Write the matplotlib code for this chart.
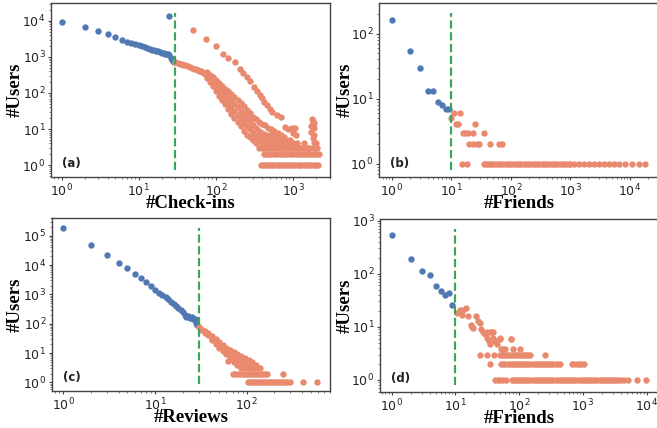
import matplotlib.pyplot as plt

blue = '#5079B3'
orange = '#E9896E'
green = '#3BA55D'

# ---- (a) check-ins ----
a_head_x = [1, 2, 3, 4, 5, 6, 7, 8, 9, 10, 11, 12, 13, 14, 15, 16, 17, 18, 19, 20,
            21, 22, 23, 24, 25, 26, 27, 28, 29, 25]
a_head_y = [9500, 6600, 5150, 4200, 3500, 3000, 2630, 2400, 2300, 2150, 2040, 1910,
            1780, 1670, 1600, 1530, 1470, 1410, 1350, 1300, 1260, 1230, 1200, 1170,
            1110, 910, 820, 760, 730, 13400]
a_trend_x = [30, 32, 34, 36, 38, 40, 43, 46, 49, 52, 55, 58, 61, 64, 67, 70, 73]
a_trend_y = [720, 680, 650, 620, 600, 580, 555, 530, 500, 475, 455, 435, 415, 395,
             375, 355, 335]
a_cloud_x = [76, 76, 76, 83, 83, 83, 91, 91, 91, 100, 100, 100,
             110, 110, 110, 110, 120, 120, 120, 120, 132, 132, 132, 132,
             145, 145, 145, 145, 158, 158, 158, 158, 174, 174, 174, 174,
             191, 191, 191, 191, 209, 209, 209, 209, 229, 229, 229, 229,
             251, 251, 251, 251, 275, 275, 275, 275, 302, 302, 302, 302,
             331, 331, 331, 331, 363, 363, 363, 363, 398, 398, 398, 398,
             437, 437, 437, 479, 479, 479, 525, 525, 525, 575, 575, 575,
             631, 631, 631, 692, 692, 692, 759, 759, 832, 832, 912, 912,
             1000, 1000, 1120, 1120, 1250, 1400, 1400, 1550, 2000, 2000]
a_cloud_y = [380, 316, 263, 324, 257, 204, 269, 204, 155, 224, 158, 112,
             190, 145, 110, 83, 158, 117, 85, 63, 132, 93, 68, 48,
             112, 76, 52, 35, 93, 62, 41, 27, 79, 50, 32, 20,
             63, 40, 25, 16, 52, 32, 20, 12, 43, 26, 16, 9,
             34, 20, 12, 7, 28, 17, 10, 6, 22, 13, 8, 5,
             19, 11, 6, 4, 16, 9, 5, 3, 14, 8, 5, 3,
             13, 7, 4, 11, 6, 4, 10, 6, 4, 9, 5, 3,
             8, 5, 4, 7, 4, 3, 6, 4, 5, 4, 5, 3,
             4, 3, 4, 3, 3, 4, 3, 3, 3, 4]
a_levels_x = [420, 470, 520, 580, 650, 720, 790,
              400, 450, 500, 560, 620, 690, 760, 840, 930,
              380, 430, 490, 550, 610, 680, 760,
              360, 410, 470, 530, 600, 680,
              350, 400, 450, 510, 580]
a_levels_y = [3, 3, 3, 3, 3, 3, 3,
              4, 4, 4, 4, 4, 4, 4, 4, 4,
              5, 5, 5, 5, 5, 5, 5,
              6, 6, 6, 6, 6, 6,
              7, 7, 7, 7, 7]
a_branch_x = [50, 75, 100, 123, 145, 175, 204, 228, 253, 280, 309, 340, 370, 400,
              420, 457, 500, 537, 617, 692, 790, 850, 975, 1070]
a_branch_y = [5730, 3030, 1990, 1240, 960, 715, 457, 363, 270, 213, 150, 115, 90, 72,
              56, 46, 37, 30, 24, 22, 11.5, 10, 10.4, 11]
a_spike_x = [1780, 1820, 1750, 1850, 1720, 1880, 1800, 1900, 1950, 1700, 1860, 1000, 1100]
a_spike_y = [19, 17, 13, 10.5, 8.5, 7, 5.5, 4.5, 3.6, 12, 15, 8, 7]
a_ones_x = [380, 407, 437, 468, 501, 537, 575, 617, 661, 708, 759, 813, 871, 933, 1000,
            1072, 1148, 1230, 1318, 1413, 1514, 1622, 1738, 1862, 1995, 2138]
a_twos_x = [415, 445, 476, 510, 546, 585, 626, 670, 718, 769, 823, 882, 944, 1011, 1083,
            1160, 1242, 1330, 1425, 1526, 1634, 1750, 1875, 2008, 2150]
a_threes_x = [800, 880, 960, 1050, 1150, 1260, 1380, 1520, 1680, 1850, 2050]

# ---- (b) friends ----
b_head_x = [1, 2, 3, 4, 5, 6, 7, 8, 9]
b_head_y = [160, 54, 30, 13, 13, 9, 8, 7, 7]
b_tail_x = [10, 11, 14, 12, 13, 25, 16, 17, 19, 23, 36, 20, 23, 27, 29, 44, 62, 71]
b_tail_y = [5, 6, 6, 4, 4, 4, 3, 3, 3, 3, 3, 2, 2, 2, 2, 2, 2, 2]
b_ones_x = [15, 18, 35, 38, 41, 45, 49, 53, 58, 63, 69, 75, 82, 89, 97, 106, 116, 126,
            138, 150, 164, 179, 195, 213, 232, 253, 276, 301, 328, 358, 390, 425, 464,
            506, 552, 602, 656, 715, 780, 850, 930, 1000, 1130, 1370, 1660, 2030, 2450,
            2970, 3610, 4380, 5310, 6440, 8330, 10800, 14000, 18100]

# ---- (c) reviews ----
c_head_x = list(range(1, 30))
c_head_y = [190000, 49000, 22000, 12000, 7700, 4900, 3600, 2600, 1900, 1400, 1150, 960,
            800, 680, 570, 470, 400, 340, 300, 260, 200, 175, 180, 160, 165, 150, 140,
            110, 90]
c_cloud_x = [30, 32, 32, 35, 35, 38, 38, 42, 42, 42, 46, 46, 46, 50, 50, 50,
             55, 55, 55, 60, 60, 60, 63, 66, 66, 66, 72, 72, 72, 72, 79, 79, 79, 79,
             87, 87, 87, 87, 95, 95, 95, 95, 105, 105, 105, 115, 115, 115, 126, 126, 140]
c_cloud_y = [75, 68, 60, 55, 48, 48, 40, 38, 32, 28, 30, 25, 20, 24, 19, 15,
             19, 15, 12, 15, 12, 9, 5.5, 13, 10, 7, 11, 8, 6, 5, 9, 7, 5, 4,
             8, 6, 4, 3, 7, 5, 4, 3, 6, 4, 3, 5, 4, 3, 4, 3, 3]
c_twos_x = [70, 75, 80, 85, 90, 95, 100, 106, 112, 118, 124, 130, 136, 143, 150, 158,
            165, 250]
c_ones_x = [103, 108, 113, 118, 124, 130, 136, 143, 150, 158, 166, 174, 183, 193, 203,
            214, 226, 238, 250, 262, 275, 297, 408, 590]

# ---- (d) friends ----
d_head_x = [1, 2, 3, 4, 5, 6, 7, 8, 9]
d_head_y = [535, 190, 114, 96, 58, 48, 39, 43, 26]
d_tail_x = [10.7, 11.8, 13, 14.7, 12.6, 16, 21, 22.4, 24.4, 17.4, 19, 18, 27.4, 25.5,
            35.7, 37.7, 32, 39.5, 50, 75, 29, 31, 34, 39.5, 42, 35, 44.6, 50, 52, 56,
            60, 76, 81, 103]
d_tail_y = [18.5, 21, 21, 23, 17, 15.6, 15.6, 13, 11.7, 10.9, 9.4, 10, 8.1, 9,
            8, 8, 6.1, 6.1, 6.1, 6, 7.3, 7.9, 5.5, 7.9, 5.5, 4.8, 4.8, 5.9, 3.8, 3.8,
            3.8, 5.9, 3.8, 3.8]
d_threes_x = [24.5, 31, 40, 50, 54, 58, 62, 67, 72, 78, 84, 90, 97, 104, 112, 121, 130,
              140, 149, 257]
d_twos_x = [35, 53, 57, 61, 66, 71, 77, 83, 89, 96, 104, 112, 121, 130, 140, 151, 163,
            176, 190, 205, 221, 238, 257, 277, 299, 322, 347, 374, 403, 435, 670, 730,
            800, 870, 950, 1040]
d_ones_x = [42, 47, 51, 56, 62, 77, 83, 89, 96, 104, 112, 121, 130, 140, 151, 163, 176,
            190, 205, 221, 238, 257, 277, 299, 322, 347, 374, 403, 435, 469, 506, 546,
            589, 635, 685, 739, 797, 860, 928, 1000, 1080, 1165, 1257, 1356, 1463, 1578,
            1702, 1836, 1981, 2137, 2305, 2487, 2683, 2894, 3122, 3368, 3634, 3920, 4360,
            5200, 7050, 9800]

fig = plt.figure(figsize=(6.57, 4.28), dpi=100)

panels = [
    # position, xlim, ylim, threshold, xlabel, tag, ylabel x offset (axes fraction)
    ([0.0776, 0.5864, 0.4247, 0.4065], (0.73, 3020), (0.47, 31000), 30, '#Check-ins', '(a)', -0.129),
    ([0.5769, 0.5864, 0.4277, 0.4065], (0.61, 32000), (0.62, 295), 10, '#Friends', '(b)', -0.121),
    ([0.0787, 0.0864, 0.4236, 0.4042], (0.745, 810), (0.51, 4e5), 30, '#Reviews', '(c)', -0.132),
    ([0.5784, 0.0841, 0.4241, 0.4042], (0.66, 15500), (0.59, 1070), 10, '#Friends', '(d)', -0.126),
]

heads = [(a_head_x, a_head_y), (b_head_x, b_head_y), (c_head_x, c_head_y), (d_head_x, d_head_y)]
tails = [
    (a_trend_x + a_cloud_x + a_levels_x + a_branch_x + a_spike_x + a_ones_x + a_twos_x
     + a_threes_x,
     a_trend_y + a_cloud_y + a_levels_y + a_branch_y + a_spike_y + [1] * len(a_ones_x)
     + [2] * len(a_twos_x) + [3] * len(a_threes_x)),
    (b_tail_x + b_ones_x, b_tail_y + [1] * len(b_ones_x)),
    (c_cloud_x + c_twos_x + c_ones_x,
     c_cloud_y + [2] * len(c_twos_x) + [1] * len(c_ones_x)),
    (d_tail_x + d_threes_x + d_twos_x + d_ones_x,
     d_tail_y + [3] * len(d_threes_x) + [2] * len(d_twos_x) + [1] * len(d_ones_x)),
]

label_font = dict(fontfamily='Liberation Serif', fontweight='bold', fontsize=13.5)

for (pos, xlim, ylim, thr, xlabel, tag, ylx), (hx, hy), (tx, ty) in zip(panels, heads, tails):
    ax = fig.add_axes(pos)
    ax.scatter(hx, hy, s=21, c=blue, linewidths=0, zorder=2)
    ax.scatter(tx, ty, s=21, c=orange, linewidths=0, zorder=2)
    ax.axvline(thr, ymin=0.04, ymax=0.94, color=green, linestyle='--', linewidth=1.6, zorder=3)
    ax.set_xscale('log')
    ax.set_yscale('log')
    ax.set_xlim(xlim)
    ax.set_ylim(ylim)
    ax.set_xlabel(xlabel, va='baseline', **label_font)
    ax.xaxis.set_label_coords(0.5, -0.178)
    ax.set_ylabel('#Users', va='center', **label_font)
    ax.yaxis.set_label_coords(ylx, 0.5)
    ax.text(0.04, 0.08, tag, transform=ax.transAxes, fontweight='bold', fontsize=8.5,
            va='center', color='#222222')
    ax.tick_params(which='major', labelsize=9, length=2.5, width=0.8, color='#444444',
                   labelcolor='#222222', pad=1.5)
    ax.tick_params(which='minor', length=1.6, width=0.6, color='#666666')
    for sp in ax.spines.values():
        sp.set_color('#444444')
        sp.set_linewidth(1.0)

fig.savefig('out.png', dpi=100)
